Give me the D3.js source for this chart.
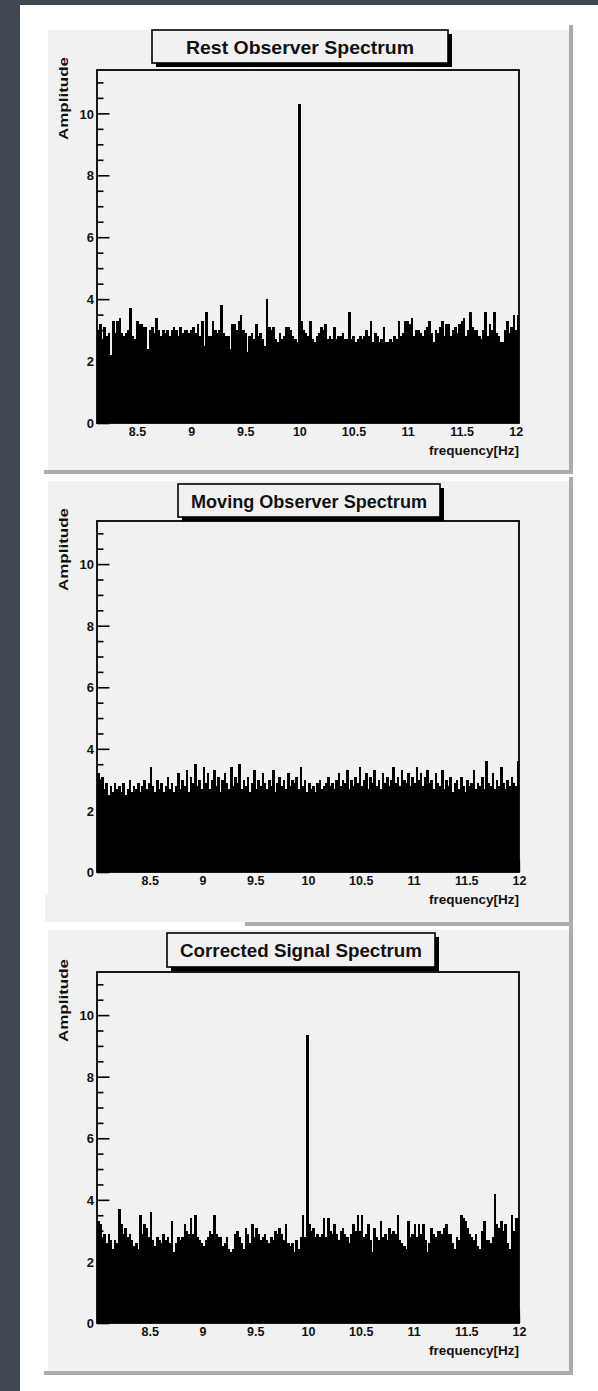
<!DOCTYPE html>
<html>
<head>
<meta charset="utf-8">
<script src="https://cdn.jsdelivr.net/npm/d3@7"></script>
<style>
  html, body { margin: 0; padding: 0; background: #ffffff; }
  svg { display: block; }
</style>
</head>
<body>
<svg id="fig" width="598" height="1391"></svg>
<script>
// ---- data ---------------------------------------------------------------
const panelTitles = ["Rest Observer Spectrum", "Moving Observer Spectrum", "Corrected Signal Spectrum"];
const xAxisTitle = "frequency[Hz]";
const yAxisTitle = "Amplitude";

// histogram binning: first bin edge [Hz] and bin width [Hz]
const binStart = [8.13, 8.0, 8.0];
const binWidth = 0.02;
// visible frequency range of each panel
const freqRange = [[8.13, 12.03], [8.0, 12.0], [8.0, 12.0]];
const ampRange = [0, 11.4];

const xTickValues = [8.5, 9, 9.5, 10, 10.5, 11, 11.5, 12];
const xTickLabels = ["8.5", "9", "9.5", "10", "10.5", "11", "11.5", "12"];
const yTickValues = [0, 2, 4, 6, 8, 10];
const yTickLabels = ["0", "2", "4", "6", "8", "10"];

const restAmplitude = [
  3.0,3.2,2.7,3.1,2.8,2.9,2.2,3.3,2.9,3.3,
  3.4,2.9,2.8,2.9,3.0,3.7,2.8,2.7,3.3,3.2,
  3.2,3.1,3.1,2.4,3.0,3.1,2.9,3.4,3.0,2.8,
  3.0,2.9,3.0,2.8,3.0,3.1,3.0,2.8,3.1,2.9,
  3.0,3.0,2.9,3.0,3.1,2.9,3.2,2.8,3.3,2.5,
  3.6,2.8,2.8,3.3,3.0,2.9,3.0,3.8,2.9,2.8,
  2.8,2.4,3.2,3.2,3.0,3.3,3.5,3.0,2.9,2.3,
  2.8,2.9,2.7,3.2,2.8,2.9,2.7,2.5,4.0,3.1,
  3.0,3.1,2.7,2.6,2.9,2.7,2.8,3.1,3.1,3.0,
  2.8,2.7,2.6,10.3,3.3,3.0,2.9,2.8,3.3,2.7,
  2.6,2.8,2.9,3.1,3.0,3.2,2.7,2.8,2.7,3.1,
  2.7,2.8,2.8,2.9,2.7,2.7,3.6,2.7,2.8,2.6,
  2.7,2.8,2.7,2.8,3.0,2.8,3.3,2.6,2.9,2.8,
  2.6,2.7,3.1,2.6,2.6,2.7,2.6,2.8,2.7,3.3,
  2.8,2.9,3.3,3.3,3.2,3.4,2.8,3.0,3.0,2.9,
  2.8,3.0,3.1,3.3,2.9,2.6,3.0,2.9,3.1,3.3,
  2.8,3.2,3.2,2.8,3.0,3.1,2.9,3.2,3.3,3.4,
  2.8,3.0,3.6,3.1,3.0,3.0,2.8,2.7,3.0,3.6,
  2.8,3.2,3.0,3.6,2.9,2.8,2.6,2.6,3.0,3.3,
  2.9,3.1,3.5,3.0,3.5,3.5
];

const movingAmplitude = [
  3.2,3.0,3.1,2.7,2.9,2.5,2.8,2.6,2.9,2.7,
  2.8,2.6,2.9,2.5,2.7,3.0,2.6,2.8,2.7,2.9,
  2.6,2.8,3.0,2.7,2.9,3.4,2.8,2.6,3.0,2.7,
  2.9,2.6,2.8,3.1,2.7,2.9,2.6,2.8,3.2,2.7,
  3.0,2.8,3.3,2.6,3.1,2.9,3.5,2.8,3.0,2.7,
  3.4,2.9,3.2,2.7,3.0,3.3,2.8,3.1,2.6,3.0,
  3.2,2.9,2.7,3.4,2.8,3.1,2.9,3.5,2.7,3.0,
  2.8,3.1,2.6,2.9,3.3,2.7,3.0,2.8,3.2,2.9,
  2.7,3.0,2.8,3.3,2.6,2.9,3.1,2.8,3.0,2.7,
  3.2,2.8,3.0,2.9,3.1,2.7,3.4,2.8,3.0,2.6,
  2.9,2.7,2.8,2.6,2.9,3.0,2.7,2.8,2.9,3.1,
  2.8,2.9,2.7,3.0,3.2,2.8,3.0,2.9,3.3,2.7,
  3.0,2.8,3.1,2.9,3.4,2.8,3.0,3.2,2.7,3.1,
  2.9,3.3,2.8,3.0,2.7,3.2,2.9,3.1,2.8,3.0,
  3.4,2.9,3.1,2.8,3.3,3.0,2.9,3.2,2.8,3.1,
  2.9,3.4,3.0,3.2,2.8,3.1,3.3,2.9,3.0,2.7,
  3.2,2.9,2.8,3.3,2.7,3.0,2.8,3.1,2.6,2.9,
  3.0,2.7,3.1,2.8,2.6,3.0,2.8,2.9,3.3,2.7,
  2.9,2.8,3.1,2.7,3.6,2.9,2.8,3.2,2.7,3.0,
  2.8,3.4,2.9,2.7,3.0,2.8,3.1,2.9,2.8,3.6
];

const correctedAmplitude = [
  3.3,3.2,2.8,2.9,2.6,2.9,2.7,2.4,2.7,2.6,
  3.7,3.2,2.9,3.1,2.8,2.9,2.7,2.5,2.6,2.4,
  3.5,2.9,3.2,3.1,2.8,3.6,2.7,2.5,2.8,2.7,
  2.6,2.9,2.7,2.8,2.6,3.3,2.3,2.6,2.8,2.7,
  2.8,3.2,3.0,2.9,3.4,2.9,3.5,2.8,2.7,2.6,
  2.5,2.7,2.8,3.0,2.9,3.5,2.9,2.8,2.8,2.5,
  2.6,2.8,2.4,2.3,2.4,2.9,3.0,2.8,2.6,2.4,
  3.1,2.9,2.6,3.2,2.8,3.1,2.9,2.7,2.8,2.9,
  2.7,2.6,2.8,2.7,3.0,2.9,3.1,2.9,2.7,3.2,
  2.6,2.5,2.6,2.3,2.7,2.4,2.8,3.5,2.8,9.35,
  3.2,3.0,3.1,2.8,2.9,2.8,2.9,3.4,2.8,3.4,
  3.0,2.9,3.2,2.9,2.7,3.0,3.1,2.9,2.8,2.6,
  2.9,3.2,3.0,3.5,3.0,3.5,2.8,2.9,3.2,2.7,
  2.3,3.1,2.8,2.7,3.3,2.8,2.9,2.7,3.1,2.9,
  3.0,2.9,3.5,2.7,2.6,2.5,2.4,3.3,2.8,2.9,
  3.2,2.8,3.2,2.9,3.2,2.7,2.3,2.6,3.1,2.9,
  2.8,3.0,3.0,2.9,3.1,3.2,2.9,2.9,2.6,2.4,
  2.8,2.7,3.5,3.4,3.3,3.1,2.9,2.8,2.7,2.9,
  2.5,2.4,3.0,3.3,2.7,2.7,2.6,2.8,4.2,3.2,
  3.1,3.3,3.0,3.2,2.6,2.4,3.5,3.0,3.4,3.4
];

const spectra = [restAmplitude, movingAmplitude, correctedAmplitude];

// ---- page layout ----------------------------------------------------------
const FONT = "'Liberation Sans', Arial, Helvetica, sans-serif";
const svg = d3.select("#fig");

// dark page margin on the left and top
svg.append("rect").attr("x", 0).attr("y", 0).attr("width", 598).attr("height", 1391).attr("fill", "#ffffff");
svg.append("rect").attr("x", 0).attr("y", 0).attr("width", 598).attr("height", 5).attr("fill", "#3f4850");
svg.append("rect").attr("x", 0).attr("y", 0).attr("width", 20).attr("height", 1391).attr("fill", "#3f4850");

// one pad per spectrum
const pads = [
  { bg: [48, 30, 521, 440], extra: null, shadowB: [44, 470, 529, 4], shadowR: [569, 25, 4, 449],
    box: [152, 30, 296, 33], titleW: 228, plot: { l: 97, t: 70, r: 519, b: 423 } },
  { bg: [48, 481, 521, 414], extra: [45, 895, 524, 27], shadowB: [245, 922, 328, 4], shadowR: [569, 477, 4, 449],
    box: [178, 484, 262, 33], titleW: 236, plot: { l: 97, t: 521, r: 519, b: 872 } },
  { bg: [48, 930, 521, 441], extra: null, shadowB: [44, 1371, 529, 4], shadowR: [569, 926, 4, 449],
    box: [167, 933, 268, 34], titleW: 242, plot: { l: 97, t: 972, r: 519, b: 1323 } }
];

pads.forEach((pad, k) => {
  const g = svg.append("g").attr("class", "pad");
  const rect = (r, fill) => g.append("rect")
    .attr("x", r[0]).attr("y", r[1]).attr("width", r[2]).attr("height", r[3]).attr("fill", fill);

  rect(pad.bg, "#f1f1f1");
  if (pad.extra) rect(pad.extra, "#f1f1f1");
  rect(pad.shadowB, "#acacac");
  rect(pad.shadowR, "#acacac");

  const p = pad.plot;
  const x = d3.scaleLinear().domain(freqRange[k]).range([p.l, p.r]);
  const y = d3.scaleLinear().domain(ampRange).range([p.b, p.t]);

  // histogram bars
  const clipId = "clip" + k;
  g.append("clipPath").attr("id", clipId)
    .append("rect").attr("x", p.l).attr("y", p.t).attr("width", p.r - p.l).attr("height", p.b - p.t);

  const start = binStart[k];
  g.append("g").attr("clip-path", `url(#${clipId})`)
    .selectAll("rect")
    .data(spectra[k])
    .join("rect")
    .attr("x", (d, i) => x(start + i * binWidth))
    .attr("width", (d, i) => x(start + (i + 1) * binWidth) - x(start + i * binWidth) + 0.5)
    .attr("y", d => y(d))
    .attr("height", d => y(0) - y(d))
    .attr("fill", "#000")
    .attr("shape-rendering", "crispEdges");

  // y axis: ticks point into the frame
  const yMinor = d3.range(0, 11.5, 0.5).filter(v => v % 2 !== 0);
  const yAxisG = g.append("g").attr("transform", `translate(${p.l},0)`);
  yAxisG.call(d3.axisLeft(y).tickValues(yMinor).tickSizeInner(-6.5).tickSizeOuter(0).tickFormat(""));
  yAxisG.append("g").call(d3.axisLeft(y).tickValues(yTickValues).tickSizeInner(-12.5).tickSizeOuter(0)
    .tickPadding(3).tickFormat((d, i) => yTickLabels[i]));
  yAxisG.selectAll(".domain").remove();
  yAxisG.selectAll("line").attr("stroke", "#000").attr("stroke-width", 1.6);
  yAxisG.selectAll("text").attr("font-family", FONT).attr("font-size", 13).attr("font-weight", "bold")
    .attr("fill", "#111").attr("dy", "0.36em");

  // x axis
  const xMinor = d3.range(8.1, 12.05, 0.1).map(v => +v.toFixed(2)).filter(v => v >= freqRange[k][0] && v <= freqRange[k][1]);
  const xAxisG = g.append("g").attr("transform", `translate(0,${p.b})`);
  xAxisG.call(d3.axisBottom(x).tickValues(xMinor).tickSizeInner(-6.5).tickSizeOuter(0).tickFormat(""));
  xAxisG.append("g").call(d3.axisBottom(x).tickValues(xTickValues).tickSizeInner(-12.5).tickSizeOuter(0)
    .tickPadding(4).tickFormat((d, i) => xTickLabels[i]));
  xAxisG.selectAll(".domain").remove();
  xAxisG.selectAll("line").attr("stroke", "#000").attr("stroke-width", 1.2);
  xAxisG.selectAll("text").attr("font-family", FONT).attr("font-size", 12.5).attr("font-weight", "bold")
    .attr("fill", "#111");

  // frame
  g.append("rect").attr("x", p.l).attr("y", p.t).attr("width", p.r - p.l).attr("height", p.b - p.t)
    .attr("fill", "none").attr("stroke", "#000").attr("stroke-width", 1.8);

  // axis titles
  g.append("text").attr("x", p.r).attr("y", p.b + 32)
    .attr("text-anchor", "end").attr("font-family", FONT).attr("font-size", 13).attr("font-weight", "bold")
    .attr("fill", "#111").attr("textLength", 90).attr("lengthAdjust", "spacingAndGlyphs")
    .text(xAxisTitle);
  g.append("text").attr("transform", `translate(68,${p.t - 13}) rotate(-90)`)
    .attr("text-anchor", "end").attr("font-family", FONT).attr("font-size", 13.5).attr("font-weight", "bold")
    .attr("fill", "#111").attr("textLength", 83).attr("lengthAdjust", "spacingAndGlyphs")
    .text(yAxisTitle);

  // title box with drop shadow
  const b = pad.box;
  g.append("rect").attr("x", b[0] + 4).attr("y", b[1] + 4).attr("width", b[2]).attr("height", b[3]).attr("fill", "#000");
  g.append("rect").attr("x", b[0]).attr("y", b[1]).attr("width", b[2]).attr("height", b[3])
    .attr("fill", "#f1f1f1").attr("stroke", "#000").attr("stroke-width", 1.6);
  g.append("text").attr("x", b[0] + b[2] / 2).attr("y", b[1] + b[3] / 2 + 7)
    .attr("text-anchor", "middle").attr("font-family", FONT).attr("font-size", 19).attr("font-weight", "bold")
    .attr("fill", "#111").attr("textLength", pad.titleW).attr("lengthAdjust", "spacingAndGlyphs")
    .text(panelTitles[k]);
});
</script>
</body>
</html>
